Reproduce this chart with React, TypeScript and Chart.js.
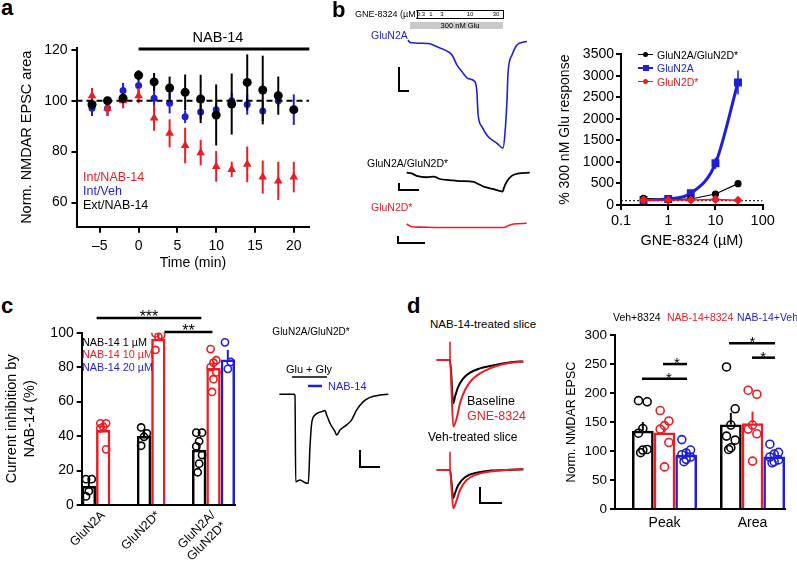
import React, { useEffect, useRef } from "react";
import { Chart, registerables } from "chart.js";

Chart.register(...registerables);

const FONT = "'Liberation Sans', Arial, Helvetica, sans-serif";
Chart.defaults.font.family = FONT;
Chart.defaults.color = "#000";

const RED = "#ec1c24";
const BLUE = "#1f1fd8";
const BLACK = "#000000";
const CLEAR = "rgba(255,255,255,0)";
const MU = "\u00b5";

// ---------------- DATA ----------------
// Panel a : time course (min) of normalised NMDAR EPSC area
const timeMin = [-6, -4, -2, 0, 2, 4, 6, 8, 10, 12, 14, 16, 18, 20];
const intNab14 = [102, 97, 100, 102, 93.2, 87.2, 82.4, 79.6, 74.2, 73, 75, 70, 68.5, 70];
const intNab14Err = [3, 3, 3, 3, 5, 5.5, 7, 5, 6, 3, 7, 6.5, 7.5, 6];
const intVeh = [97, 97, 104, 106, 101, 99, 93.7, 95.6, 96.5, 100, 98.5, 96, 100, 96.5];
const intVehErr = [3, 3, 3, 3, 5, 4, 2.5, 3, 2.5, 3, 4, 4, 2, 6];
const extNab14 = [98.5, 100, 101, 110, 107.4, 105, 103.3, 100.7, 94.4, 98.7, 107.2, 104.2, 102, 96.5];
const extNab14Err = [2, 1, 2, 2, 3.5, 4.5, 7, 9.5, 12, 12, 11, 13.5, 7.5, 0];
const aXTicks = [-5, 0, 5, 10, 15, 20];
const aYTicks = [60, 80, 100, 120];

// Panel b : concentration-response (GNE-8324, µM)
const gneConc = [0.3, 1, 3, 10, 30];
const gluN2A = [116, 140, 271, 968, 2845];
const gluN2AErr = [20, 20, 40, 130, 280];
const gluN2AD = [155, 116, 140, 256, 496];
const gluN2D = [115, 115, 115, 130, 110];
const gluN2DErr = [30, 20, 10, 10, 10];
const bXTicks = [0.1, 1, 10, 100];
const bXLabels = ["0.1", "1", "10", "100"];

// Panel b traces (time s, current nA)
const trN2A_t = [1, 3, 21, 30, 41, 45, 50, 55, 61, 68, 70, 71, 75, 81, 90, 96, 98, 100, 101, 105, 110, 115, 120];
const trN2A_i = [0.04, -0.01, -0.03, -0.1, -0.2, -0.27, -0.48, -0.62, -0.76, -0.83, -1.07, -1.49, -1.77, -1.97, -2.11, -2.21, -1.9, -1.21, -0.65, -0.27, -0.06, -0.01, 0.01];
const trN2AD_t = [0, 5, 10, 20, 27, 33, 43, 53, 67, 70, 77, 87, 96, 97, 100, 105, 112, 123];
const trN2AD_i = [0, -0.02, -0.09, -0.13, -0.11, -0.18, -0.21, -0.24, -0.26, -0.3, -0.4, -0.47, -0.54, -0.45, -0.26, -0.09, -0.02, 0];
const trN2D_t = [0, 5, 13, 33, 67, 97, 102, 107, 120];
const trN2D_i = [0, -0.08, -0.09, -0.1, -0.1, -0.1, -0.04, 0, 0.02];

// Panel c : current inhibition by NAB-14 (%)
const cCats = [["GluN2A"], ["GluN2D*"], ["GluN2A/", "GluN2D*"]];
const inh1uM = [11, 40, 32];
const inh1uMErr = [4, 3, 4];
const inh10uM = [43.5, 96.5, 79.5];
const inh10uMErr = [3, 2.5, 4];
const inh20uM = [84.5];
const inh20uMErr = [5.5];
const inh1uMPts = [[15, 15, 8, 5], [45, 41.6, 39.6, 34.4], [42, 42, 37, 34, 29, 24, 19]];
const inh10uMPts = [[47.4, 47.4, 45.4, 44.5, 32.3], [99.6, 98.6, 97.7, 90], [90.5, 84, 82.6, 80, 77, 73, 65.6]];
const inh20uMPts = [[], [], [94.4, 83, 79]];

// Panel c trace (time s, current nA)
const trC_t = [0, 1.4, 1.57, 1.64, 2.07, 2.57, 2.9, 3.07, 3.24, 3.57, 3.9, 4.24, 4.57, 4.74, 5.07, 5.57, 5.74, 6.07, 6.74, 7.24, 7.74, 8.4, 9.07, 10.07, 10.9];
const trC_i = [0, 0, -0.06, -5.14, -5.04, -5.2, -5.24, -3.08, -1.7, -1.22, -1.08, -1.02, -0.96, -1.22, -1.7, -2.2, -2.4, -2.1, -1.8, -1.5, -0.92, -0.43, -0.18, -0.04, 0];

// Panel d traces (time ms, current pA)
const trD1red_t = [-133, 0, 33, 67, 100, 150, 217, 300, 400, 500, 633, 733];
const trD1red_i = [0, 0, -333, -291, -216, -150, -100, -67, -42, -25, -13, -7];
const trD1blk_t = [-133, 0, 33, 50, 83, 133, 200, 300, 400, 500, 633, 733];
const trD1blk_i = [0, 0, -216, -183, -133, -92, -63, -42, -30, -20, -10, -7];
const trD2red_t = [-133, 0, 33, 67, 100, 167, 267, 400, 567, 733];
const trD2red_i = [0, 0, -191, -150, -100, -50, -22, -8, 0, 3.5];
const trD2blk_t = [-133, 0, 33, 50, 83, 150, 267, 400, 567, 733];
const trD2blk_i = [0, 0, -141, -116, -75, -36, -13, -3, 0, 3.5];
const artifactAmp = 91.5;

// Panel d : normalised NMDAR EPSC (%)
const dCats = ["Peak", "Area"];
const veh8324 = [135, 146];
const veh8324Err = [15, 20];
const nab8324 = [132, 148];
const nab8324Err = [10, 20];
const nabVeh = [94, 91];
const nabVehErr = [11, 8];
const veh8324Pts = [[187, 185, 139, 131, 103, 102, 97.5], [245, 173, 145, 126, 119, 106, 103]];
const nab8324Pts = [[170, 152, 144, 138, 115, 73], [205, 198, 145, 138, 130, 83]];
const nabVehPts = [[120, 102, 97, 94, 90, 86, 82], [112, 98, 95, 90, 85, 82, 80]];

// ---------------- PLUGINS ----------------
const errorBarPlugin = {
  id: "errorBars",
  beforeDatasetDraw(chart: any, args: any) {
    const ds: any = chart.data.datasets[args.index];
    if (!ds.errors) return;
    const meta = args.meta;
    const ys = chart.scales[meta.yAxisID];
    const ctx = chart.ctx;
    ctx.save();
    ctx.strokeStyle = ds.borderColor;
    ctx.lineWidth = ds.errorWidth ?? 2;
    meta.data.forEach((el: any, i: number) => {
      const e = ds.errors[i];
      const raw = ds.data[i];
      const v = typeof raw === "number" ? raw : raw && raw.y;
      if (!e || v == null) return;
      const top = ys.getPixelForValue(v + e);
      const bot = ds.errorUp ? el.y : ys.getPixelForValue(v - e);
      ctx.beginPath();
      ctx.moveTo(el.x, top);
      ctx.lineTo(el.x, bot);
      ctx.stroke();
    });
    ctx.restore();
  },
};
Chart.register(errorBarPlugin);

function annotPlugin(a: any) {
  return {
    id: "annot",
    afterDraw(chart: any) {
      const { ctx } = chart;
      const xs = chart.scales.x;
      const ys = chart.scales.y;
      ctx.save();
      (a.lines || []).forEach((l: any) => {
        ctx.strokeStyle = l.color || BLACK;
        ctx.lineWidth = l.width || 2.5;
        ctx.beginPath();
        ctx.moveTo(xs.getPixelForValue(l.x1), ys.getPixelForValue(l.y));
        ctx.lineTo(xs.getPixelForValue(l.x2), ys.getPixelForValue(l.y));
        ctx.stroke();
      });
      (a.texts || []).forEach((t: any) => {
        ctx.fillStyle = t.color || BLACK;
        ctx.font = `${t.size || 15}px ${FONT}`;
        ctx.textAlign = "center";
        ctx.textBaseline = "alphabetic";
        ctx.fillText(t.text, xs.getPixelForValue(t.x), ys.getPixelForValue(t.y) + (t.dy || 0));
      });
      ctx.restore();
    },
  };
}

// ---------------- HELPERS ----------------
const plain = (v: number) => String(v);
function axis(font: number, tick = 5, pad = 3): any {
  return {
    border: { display: true, color: BLACK, width: 2 },
    grid: { display: true, drawOnChartArea: false, drawTicks: true, tickLength: tick, color: BLACK, lineWidth: 2 },
    ticks: { color: BLACK, font: { size: font, family: FONT }, padding: pad, autoSkip: false, maxRotation: 0, minRotation: 0, callback: plain },
  };
}
const baseOpts = {
  responsive: false,
  animation: false,
  events: [],
  plugins: { legend: { display: false }, tooltip: { enabled: false } },
};
const setTicks = (vals: number[]) => (s: any) => {
  s.ticks = vals.map((v) => ({ value: v }));
};

function ChartBox({ left, top, width, height, make }: any) {
  const ref = useRef<HTMLCanvasElement | null>(null);
  useEffect(() => {
    if (!ref.current) return;
    const chart = new Chart(ref.current, make());
    return () => chart.destroy();
  }, []);
  return (
    <canvas
      ref={ref}
      width={width}
      height={height}
      style={{ position: "absolute", left, top, width, height }}
    />
  );
}

function Txt({ x, y, children, size = 12, color = BLACK, bold = false, anchor = "left" }: any) {
  const tx = anchor === "center" ? "-50%" : anchor === "right" ? "-100%" : "0";
  return (
    <div
      style={{
        position: "absolute",
        left: x,
        top: y,
        transform: `translate(${tx}, -50%)`,
        fontSize: size,
        color,
        fontWeight: bold ? 700 : 400,
        fontFamily: FONT,
        whiteSpace: "nowrap",
        lineHeight: 1,
      }}
    >
      {children}
    </div>
  );
}

// ---------------- PANEL a ----------------
function makeA() {
  const pts = (ys: number[]) => timeMin.map((x, i) => ({ x, y: ys[i] }));
  return {
    type: "scatter",
    data: {
      datasets: [
        { data: pts(extNab14), errors: extNab14Err, pointStyle: "circle", pointRadius: 4.5, backgroundColor: BLACK, borderColor: BLACK, borderWidth: 0, order: 2 },
        { data: pts(intNab14), errors: intNab14Err, pointStyle: "triangle", pointRadius: 5, backgroundColor: RED, borderColor: RED, borderWidth: 0, order: 3 },
        { data: pts(intVeh), errors: intVehErr, pointStyle: "circle", pointRadius: 3.5, backgroundColor: BLUE, borderColor: BLUE, borderWidth: 0, order: 4 },
        { type: "line", data: [{ x: -8, y: 100 }, { x: 22, y: 100 }], borderColor: BLACK, borderWidth: 2, borderDash: [6, 4], pointRadius: 0, order: 1 },
      ],
    },
    options: {
      ...baseOpts,
      layout: { padding: { left: 0, right: 10.7, top: 17.8, bottom: 0 } },
      scales: {
        x: {
          type: "linear", min: -8, max: 22, ...axis(14, 6, 5),
          afterBuildTicks: setTicks(aXTicks),
          afterFit: (s: any) => { s.height = 48.3; },
          ticks: { ...axis(14, 6, 5).ticks, callback: (v: number) => (v < 0 ? "\u2013" + Math.abs(v) : String(v)) },
          title: { display: true, text: "Time (min)", font: { size: 14 }, color: BLACK, padding: { top: 0, bottom: 3.6 } },
        },
        y: {
          type: "linear", min: 50.5, max: 120.8, ...axis(14, 5, 4),
          afterBuildTicks: setTicks(aYTicks),
          afterFit: (s: any) => { s.width = 76.5; },
          title: { display: true, text: "Norm. NMDAR EPSC area", font: { size: 14.5 }, color: BLACK, padding: { top: 18.3, bottom: 0 } },
        },
      },
    },
    plugins: [annotPlugin({ lines: [{ x1: 0, x2: 22, y: 120.3, width: 3 }] })],
  };
}

// ---------------- PANEL b plot ----------------
function makeBPlot() {
  const pts = (ys: number[]) => gneConc.map((x, i) => ({ x, y: ys[i] }));
  return {
    type: "line",
    data: {
      datasets: [
        { data: pts(gluN2D), errors: gluN2DErr, errorWidth: 1.5, borderColor: RED, backgroundColor: RED, borderWidth: 1.5, pointStyle: "rectRot", pointRadius: 3.5, order: 1 },
        { data: pts(gluN2AD), borderColor: BLACK, backgroundColor: BLACK, borderWidth: 1.2, pointStyle: "circle", pointRadius: 3, order: 2 },
        { data: pts(gluN2A), errors: gluN2AErr, errorWidth: 1.5, borderColor: BLUE, backgroundColor: BLUE, borderWidth: 3, pointStyle: "rect", pointRadius: 3.5, cubicInterpolationMode: "monotone", order: 3 },
        { data: [{ x: 0.1, y: 100 }, { x: 100, y: 100 }], borderColor: BLACK, borderWidth: 1, borderDash: [2, 2], pointRadius: 0, order: 4 },
      ],
    },
    options: {
      ...baseOpts,
      layout: { padding: { left: 0, right: 34.3, top: 34.3, bottom: 35 } },
      scales: {
        x: {
          type: "logarithmic", min: 0.1, max: 100, ...axis(14.5, 5, 2),
          afterBuildTicks: setTicks(bXTicks),
          afterFit: (s: any) => { s.height = 50; },
          ticks: { ...axis(14.5, 5, 2).ticks, callback: (v: number) => bXLabels[bXTicks.indexOf(v)] ?? "" },
          title: { display: true, text: `GNE-8324 (${MU}M)`, font: { size: 14.5 }, color: BLACK, padding: { top: 0, bottom: 4.9 } },
        },
        y: {
          type: "linear", min: 0, max: 3500, ...axis(14, 5, 2),
          ticks: { ...axis(14, 5, 2).ticks, stepSize: 500 },
          afterFit: (s: any) => { s.width = 81; },
          title: { display: true, text: "% 300 nM Glu response", font: { size: 14 }, color: BLACK, padding: { top: 16.6, bottom: 0 } },
        },
      },
    },
  };
}

// ---------------- TRACES ----------------
function makeTrace(xMin: number, xMax: number, yMin: number, yMax: number, series: any[]) {
  return {
    type: "line",
    data: {
      datasets: series.map((s) => ({
        data: s.xs.map((x: number, i: number) => ({ x, y: s.ys[i] })),
        borderColor: s.color,
        borderWidth: s.width ?? 1.6,
        pointRadius: 0,
        clip: false,
        cubicInterpolationMode: s.smooth ? "monotone" : "default",
        tension: 0,
      })),
    },
    options: {
      ...baseOpts,
      layout: { padding: 0 },
      scales: {
        x: { type: "linear", display: false, min: xMin, max: xMax },
        y: { type: "linear", display: false, min: yMin, max: yMax },
      },
    },
  };
}
function scaleBar(x0: number, y0: number, w: number, h: number) {
  return { xs: [x0, x0, x0 + w], ys: [y0 + h, y0, y0], color: BLACK, width: 2 };
}

// ---------------- PANEL c ----------------
const jitter = (k: number) => [-0.2, 0.2, 0, -0.2, 0.2, 0, -0.1][k % 7];
function dots(groups: number[][], slot: number, slotW: number, color: string, r: number) {
  const data: any[] = [];
  groups.forEach((vals, g) =>
    vals.forEach((v, k) => data.push({ x: g + (slot - 1) * slotW + jitter(k) * slotW, y: v }))
  );
  return { type: "scatter", data, pointRadius: r, pointStyle: "circle", borderColor: color, backgroundColor: CLEAR, borderWidth: 1.6, order: 0 };
}
function bars(vals: number[], errs: number[], xs: number[], color: string, catPct: number) {
  return {
    type: "bar",
    data: vals.map((y, i) => ({ x: xs[i], y })),
    errors: errs,
    errorUp: true,
    errorWidth: 2,
    borderColor: color,
    backgroundColor: CLEAR,
    borderWidth: 2.5,
    borderSkipped: "bottom",
    categoryPercentage: catPct,
    barPercentage: 1,
    order: 1,
  };
}

function makeC() {
  const cp = 0.78;
  const sw = cp / 3;
  return {
    type: "bar",
    data: {
      datasets: [
        bars(inh1uM, inh1uMErr, [0, 1, 2], BLACK, cp),
        bars(inh10uM, inh10uMErr, [0, 1, 2], RED, cp),
        bars(inh20uM, inh20uMErr, [2], BLUE, cp),
        dots(inh1uMPts, 0, sw, BLACK, 3.6),
        dots(inh10uMPts, 1, sw, RED, 3.6),
        dots(inh20uMPts, 2, sw, BLUE, 3.6),
      ],
    },
    options: {
      ...baseOpts,
      layout: { padding: { left: 0, right: 10, top: 32.7, bottom: 0 } },
      scales: {
        x: {
          type: "linear", min: -0.39, max: 2.39, offset: false,
          border: { display: true, color: BLACK, width: 2 },
          grid: { display: false, drawTicks: false },
          afterBuildTicks: setTicks([0, 1, 2]),
          afterFit: (s: any) => { s.height = 65; },
          ticks: { color: BLACK, font: { size: 12.5 }, padding: 3, autoSkip: false, maxRotation: 45, minRotation: 45, callback: (v: number) => cCats[v] },
        },
        y: {
          type: "linear", min: 0, max: 100, ...axis(14, 5, 3),
          ticks: { ...axis(14, 5, 3).ticks, stepSize: 20 },
          afterFit: (s: any) => { s.width = 81.7; },
          title: { display: true, text: ["Current inhibition by", "NAB-14 (%)"], font: { size: 14.5 }, color: BLACK, padding: { top: 3.4, bottom: 0 } },
        },
      },
    },
    plugins: [
      annotPlugin({
        lines: [
          { x1: -0.12, x2: 1.78, y: 108.5 },
          { x1: 1.11, x2: 1.98, y: 100.4 },
        ],
        texts: [
          { x: 0.83, y: 108.5, text: "***", dy: 4, size: 16 },
          { x: 1.545, y: 100.4, text: "**", dy: 4, size: 16 },
        ],
      }),
    ],
  };
}

// ---------------- PANEL d ----------------
function makeD() {
  const cp = 0.739;
  const sw = cp / 3;
  return {
    type: "bar",
    data: {
      datasets: [
        bars(veh8324, veh8324Err, [0, 1], BLACK, cp),
        bars(nab8324, nab8324Err, [0, 1], RED, cp),
        bars(nabVeh, nabVehErr, [0, 1], BLUE, cp),
        dots(veh8324Pts, 0, sw, BLACK, 4),
        dots(nab8324Pts, 1, sw, RED, 4),
        dots(nabVehPts, 2, sw, BLUE, 4),
      ],
    },
    options: {
      ...baseOpts,
      layout: { padding: { left: 0, right: 12, top: 35, bottom: 0 } },
      scales: {
        x: {
          type: "linear", min: -0.5625, max: 1.369, offset: false,
          border: { display: true, color: BLACK, width: 2 },
          grid: { display: false, drawTicks: false },
          afterBuildTicks: setTicks([0, 1]),
          afterFit: (s: any) => { s.height = 60.7; },
          ticks: { color: BLACK, font: { size: 14 }, padding: 5, autoSkip: false, maxRotation: 0, minRotation: 0, callback: (v: number) => dCats[v] },
        },
        y: {
          type: "linear", min: 0, max: 300, ...axis(13.5, 5, 3),
          ticks: { ...axis(13.5, 5, 3).ticks, stepSize: 50 },
          afterFit: (s: any) => { s.width = 75; },
          title: { display: true, text: "Norm. NMDAR EPSC", font: { size: 12.5 }, color: BLACK, padding: { top: 24, bottom: 0 } },
        },
      },
    },
    plugins: [
      annotPlugin({
        lines: [
          { x1: -0.256, x2: 0.256, y: 224.5 },
          { x1: -0.017, x2: 0.256, y: 250 },
          { x1: 0.733, x2: 1.256, y: 285.7 },
          { x1: 0.994, x2: 1.256, y: 261 },
        ],
        texts: [
          { x: 0.05, y: 224.5, text: "*", dy: 4 },
          { x: 0.14, y: 250, text: "*", dy: 4 },
          { x: 1.0, y: 285.7, text: "*", dy: 4 },
          { x: 1.12, y: 261, text: "*", dy: 4 },
        ],
      }),
    ],
  };
}

// ---------------- LEGEND ROW (panel b) ----------------
function LegRow({ y, color, lw, marker, label }: any) {
  return (
    <>
      <div style={{ position: "absolute", left: 638, top: y - lw / 2, width: 15, height: lw, background: color }} />
      <div
        style={{
          position: "absolute",
          left: 645.5 - (marker === "rect" ? 3 : 2.7),
          top: y - (marker === "rect" ? 3 : 2.7),
          width: marker === "rect" ? 6 : 5.4,
          height: marker === "rect" ? 6 : 5.4,
          background: color,
          borderRadius: marker === "rect" ? 0 : "50%",
        }}
      />
      <Txt x={657} y={y} size={10.5} color={color}>{label}</Txt>
    </>
  );
}

export default function App() {
  return (
    <div style={{ position: "absolute", left: 0, top: 0, width: 797, height: 570, background: "#fff", overflow: "hidden", fontFamily: FONT }}>
      {/* Panel a */}
      <Txt x={1} y={8} size={22} bold>a</Txt>
      <ChartBox left={0} top={30} width={320} height={245} make={makeA} />
      <Txt x={218} y={37} size={14.5} anchor="center">NAB-14</Txt>
      <Txt x={83} y={177} size={12.5} color={RED}>Int/NAB-14</Txt>
      <Txt x={83} y={191} size={12.5} color={BLUE}>Int/Veh</Txt>
      <Txt x={83} y={205} size={12.5}>Ext/NAB-14</Txt>

      {/* Panel b traces */}
      <Txt x={332} y={10} size={22} bold>b</Txt>
      <Txt x={355} y={13.5} size={9}>{`GNE-8324 (${MU}M)`}</Txt>
      <div style={{ position: "absolute", left: 417, top: 10, width: 85, height: 6.5, border: "1px solid #000" }} />
      <Txt x={421} y={14} size={6} anchor="center">0.3</Txt>
      <Txt x={431} y={14} size={6} anchor="center">1</Txt>
      <Txt x={442} y={14} size={6} anchor="center">3</Txt>
      <Txt x={470} y={14} size={6} anchor="center">10</Txt>
      <Txt x={496} y={14} size={6} anchor="center">30</Txt>
      <div style={{ position: "absolute", left: 410, top: 21.7, width: 93, height: 7.6, background: "#c9c9c9" }} />
      <Txt x={460} y={25.7} size={7.5} anchor="center">300 nM Glu</Txt>
      <Txt x={371} y={35} size={10.5} color={BLUE}>GluN2A</Txt>
      <ChartBox
        left={390} top={30} width={150} height={128}
        make={() => makeTrace(-17, 133, -2.4167, 0.25, [
          { xs: trN2A_t, ys: trN2A_i, color: BLUE, width: 1.6, smooth: true },
          scaleBar(-8, -1.02, 10, 0.5),
        ])}
      />
      <Txt x={367} y={163} size={10.5}>GluN2A/GluN2D*</Txt>
      <ChartBox
        left={390} top={160} width={150} height={38}
        make={() => makeTrace(-16.7, 133.3, -0.723, 0.363, [
          { xs: trN2AD_t, ys: trN2AD_i, color: BLACK, width: 1.8, smooth: true },
          scaleBar(-7.7, -0.494, 20, 0.2),
        ])}
      />
      <Txt x={371} y={207} size={10.5} color={RED}>GluN2D*</Txt>
      <ChartBox
        left={390} top={212} width={150} height={36}
        make={() => makeTrace(-16.7, 133.3, -0.686, 0.343, [
          { xs: trN2D_t, ys: trN2D_i, color: RED, width: 1.6, smooth: true },
          scaleBar(-8.7, -0.543, 27, 0.2),
        ])}
      />

      {/* Panel b plot */}
      <ChartBox left={540} top={20} width={257} height={270} make={makeBPlot} />
      <LegRow y={54.5} color={BLACK} lw={1.2} marker="circle" label="GluN2A/GluN2D*" />
      <LegRow y={68} color={BLUE} lw={2.6} marker="rect" label="GluN2A" />
      <LegRow y={81.5} color={RED} lw={1.5} marker="circle" label="GluN2D*" />

      {/* Panel c */}
      <Txt x={1} y={306} size={22} bold>c</Txt>
      <ChartBox left={0} top={300} width={245} height={270} make={makeC} />
      <Txt x={82} y={342} size={10.8}>{`NAB-14 1 ${MU}M`}</Txt>
      <Txt x={82} y={354.3} size={10.8} color={RED}>{`NAB-14 10 ${MU}M`}</Txt>
      <Txt x={82} y={366.6} size={10.8} color={BLUE}>{`NAB-14 20 ${MU}M`}</Txt>

      {/* Panel c trace */}
      <Txt x={311} y={332} size={10} anchor="center">GluN2A/GluN2D*</Txt>
      <Txt x={309} y={368.5} size={11} anchor="center">Glu + Gly</Txt>
      <Txt x={328} y={386} size={11} color={BLUE}>NAB-14</Txt>
      <ChartBox
        left={270} top={370} width={130} height={120}
        make={() => makeTrace(-0.93, 12.07, -5.63, 1.43, [
          { xs: [1.27, 4.77], ys: [1.02, 1.02], color: BLACK, width: 1.5 },
          { xs: [2.87, 4.27], ys: [0.49, 0.49], color: BLUE, width: 2.5 },
          { xs: trC_t, ys: trC_i, color: BLACK, width: 1.5, smooth: true },
          scaleBar(8.07, -4.28, 2, 1),
        ])}
      />

      {/* Panel d traces */}
      <Txt x={407} y={306} size={22} bold>d</Txt>
      <Txt x={430} y={325} size={11.5}>NAB-14-treated slice</Txt>
      <ChartBox
        left={430} top={335} width={100} height={100}
        make={() => makeTrace(-200, 800, -375, 125, [
          { xs: [0, 0], ys: [0, artifactAmp], color: RED, width: 1.6 },
          { xs: trD1red_t, ys: trD1red_i, color: RED, width: 2, smooth: true },
          { xs: trD1blk_t, ys: trD1blk_i, color: BLACK, width: 2, smooth: true },
        ])}
      />
      <Txt x={467} y={401} size={12.5}>Baseline</Txt>
      <Txt x={467} y={416} size={12.5} color={RED}>GNE-8324</Txt>
      <Txt x={428} y={437} size={12}>Veh-treated slice</Txt>
      <ChartBox
        left={430} top={445} width={100} height={70}
        make={() => makeTrace(-200, 800, -225, 125, [
          { xs: [0, 0], ys: [0, artifactAmp], color: RED, width: 1.6 },
          { xs: trD2red_t, ys: trD2red_i, color: RED, width: 2, smooth: true },
          { xs: trD2blk_t, ys: trD2blk_i, color: BLACK, width: 2, smooth: true },
          scaleBar(300, -165, 220, 80),
        ])}
      />

      {/* Panel d plot */}
      <ChartBox left={540} top={300} width={257} height={270} make={makeD} />
      <Txt x={613} y={317} size={10.5}>Veh+8324</Txt>
      <Txt x={667} y={317} size={10.5} color={RED}>NAB-14+8324</Txt>
      <Txt x={737} y={317} size={10.5} color={BLUE}>NAB-14+Veh</Txt>
    </div>
  );
}
